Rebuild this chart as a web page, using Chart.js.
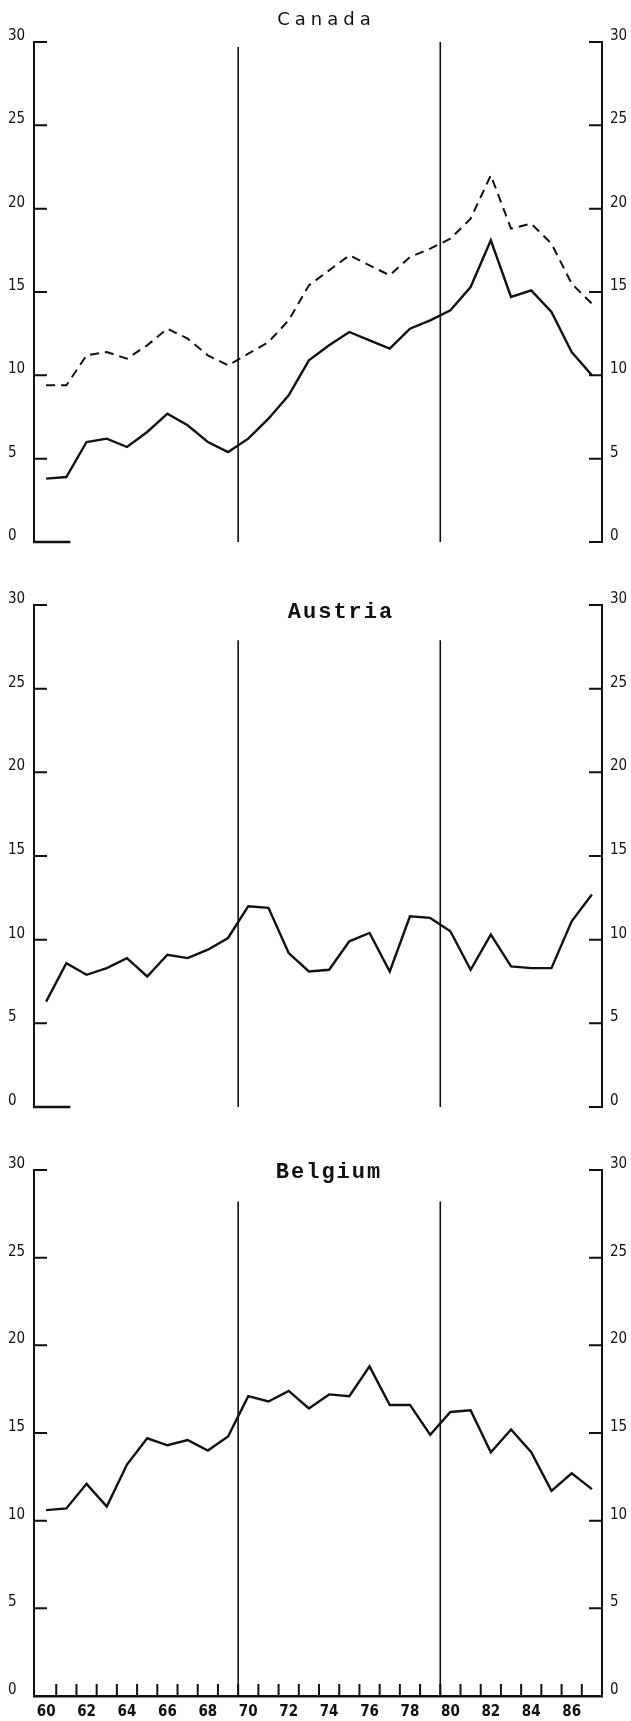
<!DOCTYPE html>
<html lang="en">
<head>
<meta charset="utf-8">
<title>Canada, Austria, Belgium 1960-87</title>
<script src="https://cdn.jsdelivr.net/npm/chart.js@4.4.1/dist/chart.umd.min.js"></script>
<style>
  html, body { margin: 0; padding: 0; background: #fff; }
  canvas { display: block; }
</style>
</head>
<body>
<canvas id="canadaChart" width="631" height="580"></canvas>
<canvas id="austriaChart" width="631" height="570"></canvas>
<canvas id="belgiumChart" width="631" height="571"></canvas>
<script>
// years 1960-1987, shown two-digit like on the axis
const years = [60, 61, 62, 63, 64, 65, 66, 67, 68, 69, 70, 71, 72, 73,
               74, 75, 76, 77, 78, 79, 80, 81, 82, 83, 84, 85, 86, 87];
const tickYears = [60, 62, 64, 66, 68, 70, 72, 74, 76, 78, 80, 82, 84, 86];
const periodBreaks = [69.5, 79.5];

// Canada: solid and dashed series
const canadaSolid = [3.8, 3.9, 6.0, 6.2, 5.7, 6.6, 7.7, 7.0, 6.0, 5.4, 6.2, 7.4, 8.8, 10.9,
                     11.8, 12.6, 12.1, 11.6, 12.8, 13.3, 13.9, 15.3, 18.1, 14.7, 15.1, 13.8, 11.4, 10.0];
const canadaDashed = [9.4, 9.4, 11.2, 11.4, 11.0, 11.8, 12.8, 12.2, 11.2, 10.6, 11.3, 12.0, 13.3, 15.4,
                      16.3, 17.2, 16.6, 16.0, 17.1, 17.6, 18.2, 19.4, 22.0, 18.8, 19.1, 17.9, 15.5, 14.3];

// Austria
const austriaSeries = [6.3, 8.6, 7.9, 8.3, 8.9, 7.8, 9.1, 8.9, 9.4, 10.1, 12.0, 11.9, 9.2, 8.1,
                       8.2, 9.9, 10.4, 8.1, 11.4, 11.3, 10.5, 8.2, 10.3, 8.4, 8.3, 8.3, 11.1, 12.7];

// Belgium
const belgiumSeries = [10.6, 10.7, 12.1, 10.8, 13.2, 14.7, 14.3, 14.6, 14.0, 14.8, 17.1, 16.8, 17.4, 16.4,
                       17.2, 17.1, 18.8, 16.6, 16.6, 14.9, 16.2, 16.3, 13.9, 15.2, 13.9, 11.7, 12.7, 11.8];

const ink = '#111';
const numFont = '"Liberation Sans Narrow", "DejaVu Sans Condensed", "DejaVu Sans", sans-serif';

// ticks pointing inward, period break lines, base line, panel title
const panelDecor = {
    id: 'panelDecor',
    afterDatasetsDraw(chart, args, opts) {
        const { ctx, chartArea } = chart;
        const xs = chart.scales.x, ys = chart.scales.y;
        const y0 = ys.getPixelForValue(0);
        ctx.save();
        ctx.strokeStyle = ink;
        ctx.lineCap = 'butt';

        ctx.lineWidth = 2;
        ys.ticks.forEach(t => {
            const py = ys.getPixelForValue(t.value);
            ctx.beginPath();
            ctx.moveTo(chartArea.left, py); ctx.lineTo(chartArea.left + 13, py);
            ctx.moveTo(chartArea.right - 13, py); ctx.lineTo(chartArea.right, py);
            ctx.stroke();
        });

        ctx.lineWidth = 1.6;
        periodBreaks.forEach((b, i) => {
            const px = xs.getPixelForValue(b);
            ctx.beginPath();
            ctx.moveTo(px, ys.getPixelForValue(opts.breakTops[i]));
            ctx.lineTo(px, y0);
            ctx.stroke();
        });

        if (opts.fullBase) {
            ctx.lineWidth = 2;
            years.slice(0, -1).forEach(v => {
                const px = xs.getPixelForValue(v + 0.5);
                ctx.beginPath(); ctx.moveTo(px, y0); ctx.lineTo(px, y0 - 12); ctx.stroke();
            });
        } else {
            ctx.lineWidth = 2.6;
            ctx.beginPath();
            ctx.moveTo(chartArea.left - 1, y0);
            ctx.lineTo(xs.getPixelForValue(opts.stubEnd), y0);
            ctx.stroke();
        }

        ctx.fillStyle = ink;
        ctx.font = opts.titleFont;
        ctx.letterSpacing = opts.titleSpacing + 'px';
        ctx.textAlign = 'center';
        ctx.textBaseline = 'alphabetic';
        ctx.fillText(opts.title, opts.titleX + opts.titleSpacing / 2, opts.titleY);
        ctx.restore();
    }
};

function toPoints(values) {
    return values.map((v, i) => ({ x: years[i], y: v }));
}

function yAxis(side) {
    return {
        position: side,
        min: 0, max: 30,
        grid: { display: false, drawTicks: false },
        border: { display: true, color: ink, width: 2 },
        afterFit: s => { s.width = side === 'left' ? 26 : 29; },
        ticks: {
            stepSize: 5,
            crossAlign: side === 'left' ? 'far' : 'near',
            padding: side === 'left' ? 0 : 8,
            labelOffset: -6,
            color: ink,
            font: { family: numFont, size: 15 }
        }
    };
}

function makePanel(id, series, panel) {
    return new Chart(document.getElementById(id), {
        type: 'line',
        data: {
            datasets: series.map(s => ({
                data: toPoints(s.values),
                borderColor: ink,
                borderWidth: s.dashed ? 2 : 2.4,
                borderDash: s.dashed ? [9, 6] : [],
                pointRadius: 0,
                tension: 0,
                fill: false
            }))
        },
        options: {
            responsive: false,
            animation: false,
            layout: { padding: { left: 8, right: 0, top: panel.padTop, bottom: panel.padBottom } },
            plugins: {
                legend: { display: false },
                tooltip: { enabled: false },
                panelDecor: panel
            },
            scales: {
                x: {
                    type: 'linear',
                    min: 59.4, max: 87.5,
                    display: panel.showYears,
                    grid: { display: false, drawTicks: false },
                    border: { display: true, color: ink, width: 2.5 },
                    afterBuildTicks: s => { s.ticks = tickYears.map(v => ({ value: v })); },
                    afterFit: s => { s.height = 25; },
                    ticks: {
                        padding: 7,
                        autoSkip: false,
                        maxRotation: 0,
                        color: ink,
                        font: { family: numFont, size: 15, weight: 'bold' },
                        callback: v => String(v)
                    }
                },
                y: yAxis('left'),
                y2: yAxis('right')
            }
        },
        plugins: [panelDecor]
    });
}

const monoTitle = 'bold 22px "Liberation Mono", "DejaVu Sans Mono", monospace';

makePanel('canadaChart',
    [{ values: canadaSolid }, { values: canadaDashed, dashed: true }],
    { title: 'Canada', titleFont: '18px "DejaVu Sans", sans-serif', titleSpacing: 5,
      titleX: 324, titleY: 25, breakTops: [29.7, 30], fullBase: false, stubEnd: 61.2,
      padTop: 42, padBottom: 13, showYears: false });

makePanel('austriaChart',
    [{ values: austriaSeries }],
    { title: 'Austria', titleFont: monoTitle, titleSpacing: 2,
      titleX: 340, titleY: 38, breakTops: [27.9, 27.9], fullBase: false, stubEnd: 61.2,
      padTop: 25, padBottom: 18, showYears: false });

makePanel('belgiumChart',
    [{ values: belgiumSeries }],
    { title: 'Belgium', titleFont: monoTitle, titleSpacing: 2,
      titleX: 328, titleY: 28, breakTops: [28.2, 28.2], fullBase: true, stubEnd: 61.2,
      padTop: 20, padBottom: 0, showYears: true });
</script>
</body>
</html>
